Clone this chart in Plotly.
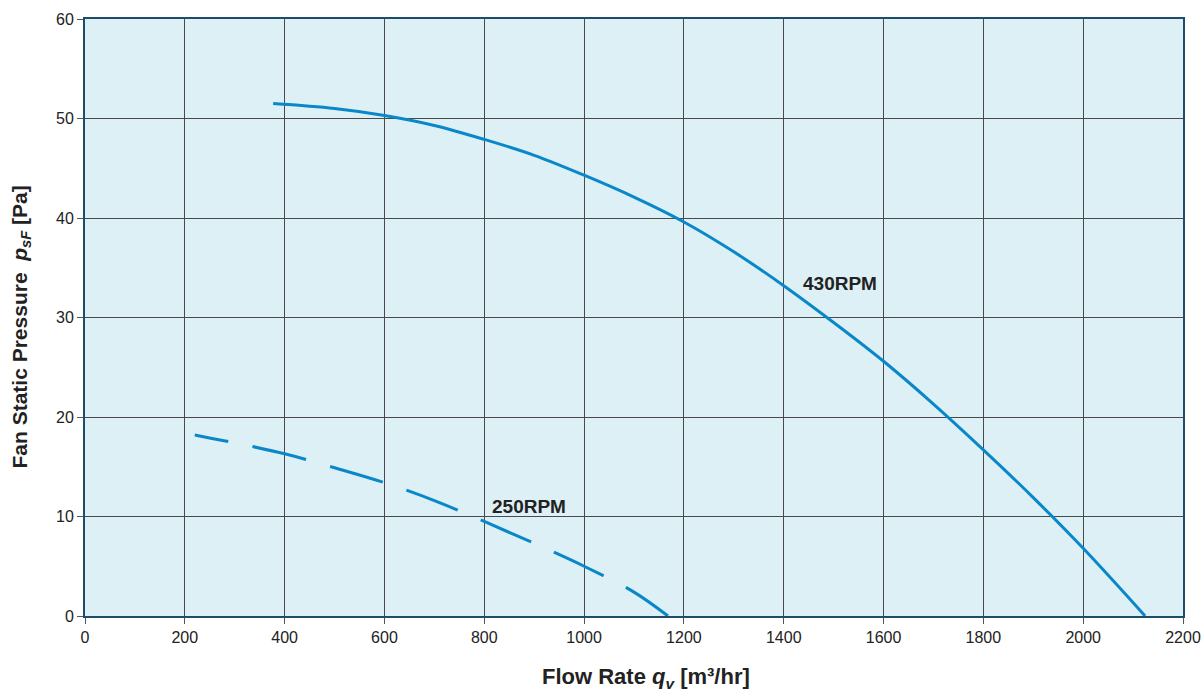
import plotly.graph_objects as go

# 430 RPM curve (flow m3/hr, pressure Pa)
q_430 = [377, 500, 600, 700, 800, 900, 1000, 1100, 1200, 1300, 1400, 1500, 1600, 1700, 1800, 1900, 2000, 2124]
p_430 = [51.5, 51.0, 50.3, 49.3, 47.9, 46.3, 44.3, 42.1, 39.6, 36.6, 33.2, 29.5, 25.6, 21.3, 16.7, 11.9, 6.8, 0.0]

# 250 RPM curve
q_250 = [220, 300, 400, 500, 600, 700, 800, 900, 1000, 1100, 1168]
p_250 = [18.2, 17.4, 16.3, 14.9, 13.4, 11.6, 9.5, 7.3, 5.0, 2.4, 0.0]

x_ticks = list(range(0, 2201, 200))
y_ticks = list(range(0, 61, 10))

color = "#0a87c9"
FONT = "Liberation Sans, Arial"

fig = go.Figure()
fig.add_trace(go.Scatter(x=q_430, y=p_430, mode="lines", line=dict(color=color, width=3, shape="spline"),
                         showlegend=False, hoverinfo="skip"))
fig.add_trace(go.Scatter(x=q_250, y=p_250, mode="lines",
                         line=dict(color=color, width=3, shape="spline",
                                   dash="34px,25px,55px,25px,55px,25px,55px,25px,55px,25px,55px,25px,55px,25px,60px,25px"),
                         showlegend=False, hoverinfo="skip"))

fig.add_annotation(x=1513, y=33.4, text="<b>430RPM</b>", showarrow=False,
                   font=dict(family=FONT, size=19, color="#222"))
fig.add_annotation(x=890, y=11.05, text="<b>250RPM</b>", showarrow=False,
                   font=dict(family=FONT, size=19, color="#222"))

# axis titles
fig.add_annotation(xref="paper", yref="paper", x=0.5, y=0, xanchor="center", yanchor="middle",
                   xshift=12, yshift=-62, showarrow=False,
                   text="<b>Flow Rate <i>q</i><sub><i>v</i></sub> [m³/hr]</b>",
                   font=dict(family=FONT, size=22, color="#222"))
fig.add_annotation(xref="paper", yref="paper", x=0, y=0.5, xanchor="center", yanchor="middle",
                   xshift=-65, yshift=-10, showarrow=False, textangle=-90,
                   text="<b>Fan Static Pressure  <i>p</i><sub><i>sF</i></sub> [Pa]</b>",
                   font=dict(family=FONT, size=21, color="#222"))

fig.update_layout(
    width=1203, height=693,
    margin=dict(l=85, r=20, t=19, b=77),
    paper_bgcolor="white",
    plot_bgcolor="#dcf0f6",
    font=dict(family=FONT, size=16, color="#222"),
    xaxis=dict(
        range=[0, 2200], tickvals=x_ticks, ticks="outside", ticklen=6, tickcolor="#555",
        showgrid=True, gridcolor="#4a4a4a", gridwidth=1,
        showline=True, linecolor="#1f4c69", linewidth=2, mirror=True,
        zeroline=False, automargin=False, ticklabeloverflow="allow",
    ),
    yaxis=dict(
        range=[0, 60], tickvals=y_ticks, ticks="outside", ticklen=6, tickcolor="#555",
        showgrid=True, gridcolor="#4a4a4a", gridwidth=1,
        showline=True, linecolor="#1f4c69", linewidth=2, mirror=True,
        zeroline=False, automargin=False,
    ),
)

fig.write_html("out.html",
               config={"displayModeBar": False},
               post_script="document.body.style.margin='0';document.body.style.overflow='hidden';")
